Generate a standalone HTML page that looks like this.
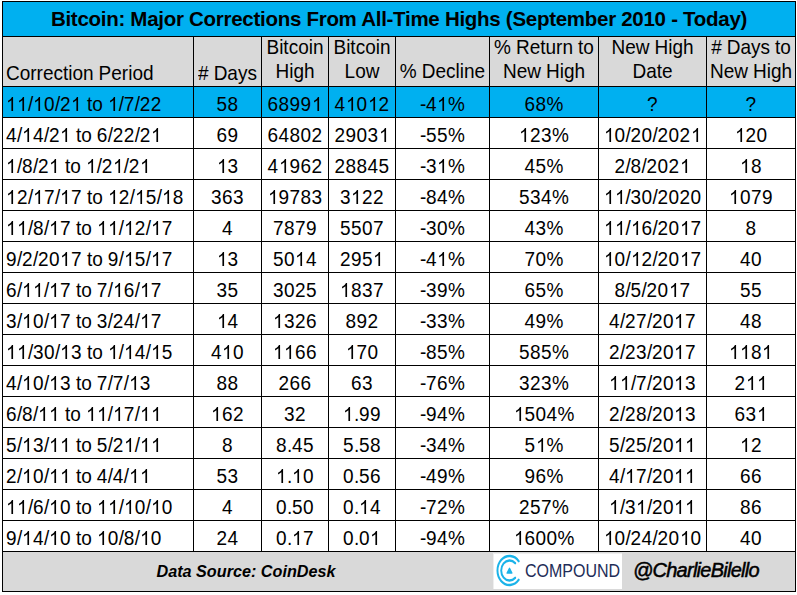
<!DOCTYPE html>
<html><head><meta charset="utf-8"><style>
html,body{margin:0;padding:0;background:#fff;width:797px;height:595px;overflow:hidden;}
body{position:relative;font-family:"Liberation Sans",sans-serif;color:#000;}
div{position:absolute;}
.p{line-height:0;white-space:nowrap;}
.g{line-height:0;white-space:nowrap;font-size:19px;transform-origin:0 6px;transform:scaleY(1.07);}
.g i{display:inline-block;font-style:normal;}
.g i.o{position:relative;height:0;}
.one{position:absolute;left:0;bottom:0;width:10.567px;height:13.267px;}
.w4_22{width:4.22px}.w5{width:5px}.w5_28{width:5.28px}.w6{width:6px}.w6_33{width:6.33px}.w9_5{width:9.5px}.w10_57{width:10.57px}.w11{width:11px}.w12_67{width:12.67px}.w13_72{width:13.72px}.w16_89{width:16.89px}
</style></head><body>
<svg width="0" height="0" style="position:absolute"><defs><path id="one" transform="scale(1,-1)" d="M763 0H583V1108Q470 1000 223 890V1060Q410 1150 520 1270Q600 1350 645 1430H763Z"/></defs></svg>
<div style="left:2px;top:1px;width:794px;height:35px;background:#00B0F0;"></div><div style="left:2px;top:36px;width:794px;height:51px;background:#D9D9D9;"></div><div style="left:2px;top:86px;width:794px;height:31px;background:#00B0F0;"></div><div style="left:2px;top:551px;width:794px;height:41px;background:#D9D9D9;"></div><div style="left:2px;top:1px;width:794px;height:1px;background:#000;"></div><div style="left:2px;top:36px;width:794px;height:1px;background:#000;"></div><div style="left:2px;top:86px;width:794px;height:1px;background:#000;"></div><div style="left:2px;top:117px;width:794px;height:1px;background:#000;"></div><div style="left:2px;top:148px;width:794px;height:1px;background:#000;"></div><div style="left:2px;top:179px;width:794px;height:1px;background:#000;"></div><div style="left:2px;top:210px;width:794px;height:1px;background:#000;"></div><div style="left:2px;top:241px;width:794px;height:1px;background:#000;"></div><div style="left:2px;top:272px;width:794px;height:1px;background:#000;"></div><div style="left:2px;top:303px;width:794px;height:1px;background:#000;"></div><div style="left:2px;top:334px;width:794px;height:1px;background:#000;"></div><div style="left:2px;top:365px;width:794px;height:1px;background:#000;"></div><div style="left:2px;top:396px;width:794px;height:1px;background:#000;"></div><div style="left:2px;top:427px;width:794px;height:1px;background:#000;"></div><div style="left:2px;top:458px;width:794px;height:1px;background:#000;"></div><div style="left:2px;top:489px;width:794px;height:1px;background:#000;"></div><div style="left:2px;top:520px;width:794px;height:1px;background:#000;"></div><div style="left:2px;top:551px;width:794px;height:1px;background:#000;"></div><div style="left:2px;top:591px;width:794px;height:1px;background:#000;"></div><div style="left:2px;top:1px;width:1px;height:591px;background:#000;"></div><div style="left:795px;top:1px;width:1px;height:591px;background:#000;"></div><div style="left:193px;top:36px;width:1px;height:515px;background:#000;"></div><div style="left:261px;top:36px;width:1px;height:515px;background:#000;"></div><div style="left:328px;top:36px;width:1px;height:515px;background:#000;"></div><div style="left:395px;top:36px;width:1px;height:515px;background:#000;"></div><div style="left:489px;top:36px;width:1px;height:515px;background:#000;"></div><div style="left:598px;top:36px;width:1px;height:515px;background:#000;"></div><div style="left:706px;top:36px;width:1px;height:515px;background:#000;"></div><div class="p" style="left:2px;top:19px;width:794px;text-align:center;font-size:20.5px;font-weight:bold;letter-spacing:-0.28px;">Bitcoin: Major Corrections From All-Time Highs (September 2010 - Today)</div><div class="g" style="left:6.00px;top:74px"><i class="w13_72">C</i><i class="w10_57">o</i><i class="w6_33">r</i><i class="w6_33">r</i><i class="w10_57">e</i><i class="w9_5">c</i><i class="w5_28">t</i><i class="w4_22">i</i><i class="w10_57">o</i><i class="w10_57">n</i><i class="w5">&nbsp;</i><i class="w12_67">P</i><i class="w10_57">e</i><i class="w6_33">r</i><i class="w4_22">i</i><i class="w10_57">o</i><i class="w10_57">d</i></div><div class="g" style="left:198.07px;top:74px"><i class="w10_57">#</i><i class="w5">&nbsp;</i><i class="w13_72">D</i><i class="w10_57">a</i><i class="w9_5">y</i><i class="w9_5">s</i></div><div class="g" style="left:266.49px;top:48px"><i class="w12_67">B</i><i class="w4_22">i</i><i class="w5_28">t</i><i class="w9_5">c</i><i class="w10_57">o</i><i class="w4_22">i</i><i class="w10_57">n</i></div><div class="g" style="left:275.46px;top:72px"><i class="w13_72">H</i><i class="w4_22">i</i><i class="w10_57">g</i><i class="w10_57">h</i></div><div class="g" style="left:333.49px;top:48px"><i class="w12_67">B</i><i class="w4_22">i</i><i class="w5_28">t</i><i class="w9_5">c</i><i class="w10_57">o</i><i class="w4_22">i</i><i class="w10_57">n</i></div><div class="g" style="left:344.57px;top:72px"><i class="w10_57">L</i><i class="w10_57">o</i><i class="w13_72">w</i></div><div class="g" style="left:399.87px;top:72px"><i class="w16_89">%</i><i class="w5">&nbsp;</i><i class="w13_72">D</i><i class="w10_57">e</i><i class="w9_5">c</i><i class="w4_22">l</i><i class="w4_22">i</i><i class="w10_57">n</i><i class="w10_57">e</i></div><div class="g" style="left:494.11px;top:48px"><i class="w16_89">%</i><i class="w5">&nbsp;</i><i class="w13_72">R</i><i class="w10_57">e</i><i class="w5_28">t</i><i class="w10_57">u</i><i class="w6_33">r</i><i class="w10_57">n</i><i class="w5">&nbsp;</i><i class="w5_28">t</i><i class="w10_57">o</i></div><div class="g" style="left:502.95px;top:72px"><i class="w13_72">N</i><i class="w10_57">e</i><i class="w13_72">w</i><i class="w5">&nbsp;</i><i class="w13_72">H</i><i class="w4_22">i</i><i class="w10_57">g</i><i class="w10_57">h</i></div><div class="g" style="left:611.46px;top:48px"><i class="w13_72">N</i><i class="w10_57">e</i><i class="w13_72">w</i><i class="w5">&nbsp;</i><i class="w13_72">H</i><i class="w4_22">i</i><i class="w10_57">g</i><i class="w10_57">h</i></div><div class="g" style="left:632.43px;top:72px"><i class="w13_72">D</i><i class="w10_57">a</i><i class="w5_28">t</i><i class="w10_57">e</i></div><div class="g" style="left:711.14px;top:48px"><i class="w10_57">#</i><i class="w5">&nbsp;</i><i class="w13_72">D</i><i class="w10_57">a</i><i class="w9_5">y</i><i class="w9_5">s</i><i class="w5">&nbsp;</i><i class="w5_28">t</i><i class="w10_57">o</i></div><div class="g" style="left:709.96px;top:72px"><i class="w13_72">N</i><i class="w10_57">e</i><i class="w13_72">w</i><i class="w5">&nbsp;</i><i class="w13_72">H</i><i class="w4_22">i</i><i class="w10_57">g</i><i class="w10_57">h</i></div><div class="g" style="left:6.00px;top:105px"><i class="w11 o"><svg class="one" viewBox="0 -1430 1139 1430"><use href="#one"/></svg></i><i class="w11 o"><svg class="one" viewBox="0 -1430 1139 1430"><use href="#one"/></svg></i><i class="w5">/</i><i class="w11 o"><svg class="one" viewBox="0 -1430 1139 1430"><use href="#one"/></svg></i><i class="w11">0</i><i class="w5">/</i><i class="w11">2</i><i class="w11 o"><svg class="one" viewBox="0 -1430 1139 1430"><use href="#one"/></svg></i><i class="w5">&nbsp;</i><i class="w5_28">t</i><i class="w10_57">o</i><i class="w5">&nbsp;</i><i class="w11 o"><svg class="one" viewBox="0 -1430 1139 1430"><use href="#one"/></svg></i><i class="w5">/</i><i class="w11">7</i><i class="w5">/</i><i class="w11">2</i><i class="w11">2</i></div><div class="g" style="left:216.50px;top:105px"><i class="w11">5</i><i class="w11">8</i></div><div class="g" style="left:267.50px;top:105px"><i class="w11">6</i><i class="w11">8</i><i class="w11">9</i><i class="w11">9</i><i class="w11 o"><svg class="one" viewBox="0 -1430 1139 1430"><use href="#one"/></svg></i></div><div class="g" style="left:334.50px;top:105px"><i class="w11">4</i><i class="w11 o"><svg class="one" viewBox="0 -1430 1139 1430"><use href="#one"/></svg></i><i class="w11">0</i><i class="w11 o"><svg class="one" viewBox="0 -1430 1139 1430"><use href="#one"/></svg></i><i class="w11">2</i></div><div class="g" style="left:420.06px;top:105px"><i class="w6">-</i><i class="w11">4</i><i class="w11 o"><svg class="one" viewBox="0 -1430 1139 1430"><use href="#one"/></svg></i><i class="w16_89">%</i></div><div class="g" style="left:524.55px;top:105px"><i class="w11">6</i><i class="w11">8</i><i class="w16_89">%</i></div><div class="g" style="left:647.00px;top:105px"><i class="w11">?</i></div><div class="g" style="left:745.50px;top:105px"><i class="w11">?</i></div><div class="g" style="left:6.00px;top:136px"><i class="w11">4</i><i class="w5">/</i><i class="w11 o"><svg class="one" viewBox="0 -1430 1139 1430"><use href="#one"/></svg></i><i class="w11">4</i><i class="w5">/</i><i class="w11">2</i><i class="w11 o"><svg class="one" viewBox="0 -1430 1139 1430"><use href="#one"/></svg></i><i class="w5">&nbsp;</i><i class="w5_28">t</i><i class="w10_57">o</i><i class="w5">&nbsp;</i><i class="w11">6</i><i class="w5">/</i><i class="w11">2</i><i class="w11">2</i><i class="w5">/</i><i class="w11">2</i><i class="w11 o"><svg class="one" viewBox="0 -1430 1139 1430"><use href="#one"/></svg></i></div><div class="g" style="left:216.50px;top:136px"><i class="w11">6</i><i class="w11">9</i></div><div class="g" style="left:267.50px;top:136px"><i class="w11">6</i><i class="w11">4</i><i class="w11">8</i><i class="w11">0</i><i class="w11">2</i></div><div class="g" style="left:334.50px;top:136px"><i class="w11">2</i><i class="w11">9</i><i class="w11">0</i><i class="w11">3</i><i class="w11 o"><svg class="one" viewBox="0 -1430 1139 1430"><use href="#one"/></svg></i></div><div class="g" style="left:420.06px;top:136px"><i class="w6">-</i><i class="w11">5</i><i class="w11">5</i><i class="w16_89">%</i></div><div class="g" style="left:519.05px;top:136px"><i class="w11 o"><svg class="one" viewBox="0 -1430 1139 1430"><use href="#one"/></svg></i><i class="w11">2</i><i class="w11">3</i><i class="w16_89">%</i></div><div class="g" style="left:603.50px;top:136px"><i class="w11 o"><svg class="one" viewBox="0 -1430 1139 1430"><use href="#one"/></svg></i><i class="w11">0</i><i class="w5">/</i><i class="w11">2</i><i class="w11">0</i><i class="w5">/</i><i class="w11">2</i><i class="w11">0</i><i class="w11">2</i><i class="w11 o"><svg class="one" viewBox="0 -1430 1139 1430"><use href="#one"/></svg></i></div><div class="g" style="left:734.50px;top:136px"><i class="w11 o"><svg class="one" viewBox="0 -1430 1139 1430"><use href="#one"/></svg></i><i class="w11">2</i><i class="w11">0</i></div><div class="g" style="left:6.00px;top:167px"><i class="w11 o"><svg class="one" viewBox="0 -1430 1139 1430"><use href="#one"/></svg></i><i class="w5">/</i><i class="w11">8</i><i class="w5">/</i><i class="w11">2</i><i class="w11 o"><svg class="one" viewBox="0 -1430 1139 1430"><use href="#one"/></svg></i><i class="w5">&nbsp;</i><i class="w5_28">t</i><i class="w10_57">o</i><i class="w5">&nbsp;</i><i class="w11 o"><svg class="one" viewBox="0 -1430 1139 1430"><use href="#one"/></svg></i><i class="w5">/</i><i class="w11">2</i><i class="w11 o"><svg class="one" viewBox="0 -1430 1139 1430"><use href="#one"/></svg></i><i class="w5">/</i><i class="w11">2</i><i class="w11 o"><svg class="one" viewBox="0 -1430 1139 1430"><use href="#one"/></svg></i></div><div class="g" style="left:216.50px;top:167px"><i class="w11 o"><svg class="one" viewBox="0 -1430 1139 1430"><use href="#one"/></svg></i><i class="w11">3</i></div><div class="g" style="left:267.50px;top:167px"><i class="w11">4</i><i class="w11 o"><svg class="one" viewBox="0 -1430 1139 1430"><use href="#one"/></svg></i><i class="w11">9</i><i class="w11">6</i><i class="w11">2</i></div><div class="g" style="left:334.50px;top:167px"><i class="w11">2</i><i class="w11">8</i><i class="w11">8</i><i class="w11">4</i><i class="w11">5</i></div><div class="g" style="left:420.06px;top:167px"><i class="w6">-</i><i class="w11">3</i><i class="w11 o"><svg class="one" viewBox="0 -1430 1139 1430"><use href="#one"/></svg></i><i class="w16_89">%</i></div><div class="g" style="left:524.55px;top:167px"><i class="w11">4</i><i class="w11">5</i><i class="w16_89">%</i></div><div class="g" style="left:614.50px;top:167px"><i class="w11">2</i><i class="w5">/</i><i class="w11">8</i><i class="w5">/</i><i class="w11">2</i><i class="w11">0</i><i class="w11">2</i><i class="w11 o"><svg class="one" viewBox="0 -1430 1139 1430"><use href="#one"/></svg></i></div><div class="g" style="left:740.00px;top:167px"><i class="w11 o"><svg class="one" viewBox="0 -1430 1139 1430"><use href="#one"/></svg></i><i class="w11">8</i></div><div class="g" style="left:6.00px;top:198px"><i class="w11 o"><svg class="one" viewBox="0 -1430 1139 1430"><use href="#one"/></svg></i><i class="w11">2</i><i class="w5">/</i><i class="w11 o"><svg class="one" viewBox="0 -1430 1139 1430"><use href="#one"/></svg></i><i class="w11">7</i><i class="w5">/</i><i class="w11 o"><svg class="one" viewBox="0 -1430 1139 1430"><use href="#one"/></svg></i><i class="w11">7</i><i class="w5">&nbsp;</i><i class="w5_28">t</i><i class="w10_57">o</i><i class="w5">&nbsp;</i><i class="w11 o"><svg class="one" viewBox="0 -1430 1139 1430"><use href="#one"/></svg></i><i class="w11">2</i><i class="w5">/</i><i class="w11 o"><svg class="one" viewBox="0 -1430 1139 1430"><use href="#one"/></svg></i><i class="w11">5</i><i class="w5">/</i><i class="w11 o"><svg class="one" viewBox="0 -1430 1139 1430"><use href="#one"/></svg></i><i class="w11">8</i></div><div class="g" style="left:211.00px;top:198px"><i class="w11">3</i><i class="w11">6</i><i class="w11">3</i></div><div class="g" style="left:267.50px;top:198px"><i class="w11 o"><svg class="one" viewBox="0 -1430 1139 1430"><use href="#one"/></svg></i><i class="w11">9</i><i class="w11">7</i><i class="w11">8</i><i class="w11">3</i></div><div class="g" style="left:340.00px;top:198px"><i class="w11">3</i><i class="w11 o"><svg class="one" viewBox="0 -1430 1139 1430"><use href="#one"/></svg></i><i class="w11">2</i><i class="w11">2</i></div><div class="g" style="left:420.06px;top:198px"><i class="w6">-</i><i class="w11">8</i><i class="w11">4</i><i class="w16_89">%</i></div><div class="g" style="left:519.05px;top:198px"><i class="w11">5</i><i class="w11">3</i><i class="w11">4</i><i class="w16_89">%</i></div><div class="g" style="left:603.50px;top:198px"><i class="w11 o"><svg class="one" viewBox="0 -1430 1139 1430"><use href="#one"/></svg></i><i class="w11 o"><svg class="one" viewBox="0 -1430 1139 1430"><use href="#one"/></svg></i><i class="w5">/</i><i class="w11">3</i><i class="w11">0</i><i class="w5">/</i><i class="w11">2</i><i class="w11">0</i><i class="w11">2</i><i class="w11">0</i></div><div class="g" style="left:729.00px;top:198px"><i class="w11 o"><svg class="one" viewBox="0 -1430 1139 1430"><use href="#one"/></svg></i><i class="w11">0</i><i class="w11">7</i><i class="w11">9</i></div><div class="g" style="left:6.00px;top:229px"><i class="w11 o"><svg class="one" viewBox="0 -1430 1139 1430"><use href="#one"/></svg></i><i class="w11 o"><svg class="one" viewBox="0 -1430 1139 1430"><use href="#one"/></svg></i><i class="w5">/</i><i class="w11">8</i><i class="w5">/</i><i class="w11 o"><svg class="one" viewBox="0 -1430 1139 1430"><use href="#one"/></svg></i><i class="w11">7</i><i class="w5">&nbsp;</i><i class="w5_28">t</i><i class="w10_57">o</i><i class="w5">&nbsp;</i><i class="w11 o"><svg class="one" viewBox="0 -1430 1139 1430"><use href="#one"/></svg></i><i class="w11 o"><svg class="one" viewBox="0 -1430 1139 1430"><use href="#one"/></svg></i><i class="w5">/</i><i class="w11 o"><svg class="one" viewBox="0 -1430 1139 1430"><use href="#one"/></svg></i><i class="w11">2</i><i class="w5">/</i><i class="w11 o"><svg class="one" viewBox="0 -1430 1139 1430"><use href="#one"/></svg></i><i class="w11">7</i></div><div class="g" style="left:222.00px;top:229px"><i class="w11">4</i></div><div class="g" style="left:273.00px;top:229px"><i class="w11">7</i><i class="w11">8</i><i class="w11">7</i><i class="w11">9</i></div><div class="g" style="left:340.00px;top:229px"><i class="w11">5</i><i class="w11">5</i><i class="w11">0</i><i class="w11">7</i></div><div class="g" style="left:420.06px;top:229px"><i class="w6">-</i><i class="w11">3</i><i class="w11">0</i><i class="w16_89">%</i></div><div class="g" style="left:524.55px;top:229px"><i class="w11">4</i><i class="w11">3</i><i class="w16_89">%</i></div><div class="g" style="left:603.50px;top:229px"><i class="w11 o"><svg class="one" viewBox="0 -1430 1139 1430"><use href="#one"/></svg></i><i class="w11 o"><svg class="one" viewBox="0 -1430 1139 1430"><use href="#one"/></svg></i><i class="w5">/</i><i class="w11 o"><svg class="one" viewBox="0 -1430 1139 1430"><use href="#one"/></svg></i><i class="w11">6</i><i class="w5">/</i><i class="w11">2</i><i class="w11">0</i><i class="w11 o"><svg class="one" viewBox="0 -1430 1139 1430"><use href="#one"/></svg></i><i class="w11">7</i></div><div class="g" style="left:745.50px;top:229px"><i class="w11">8</i></div><div class="g" style="left:6.00px;top:260px"><i class="w11">9</i><i class="w5">/</i><i class="w11">2</i><i class="w5">/</i><i class="w11">2</i><i class="w11">0</i><i class="w11 o"><svg class="one" viewBox="0 -1430 1139 1430"><use href="#one"/></svg></i><i class="w11">7</i><i class="w5">&nbsp;</i><i class="w5_28">t</i><i class="w10_57">o</i><i class="w5">&nbsp;</i><i class="w11">9</i><i class="w5">/</i><i class="w11 o"><svg class="one" viewBox="0 -1430 1139 1430"><use href="#one"/></svg></i><i class="w11">5</i><i class="w5">/</i><i class="w11 o"><svg class="one" viewBox="0 -1430 1139 1430"><use href="#one"/></svg></i><i class="w11">7</i></div><div class="g" style="left:216.50px;top:260px"><i class="w11 o"><svg class="one" viewBox="0 -1430 1139 1430"><use href="#one"/></svg></i><i class="w11">3</i></div><div class="g" style="left:273.00px;top:260px"><i class="w11">5</i><i class="w11">0</i><i class="w11 o"><svg class="one" viewBox="0 -1430 1139 1430"><use href="#one"/></svg></i><i class="w11">4</i></div><div class="g" style="left:340.00px;top:260px"><i class="w11">2</i><i class="w11">9</i><i class="w11">5</i><i class="w11 o"><svg class="one" viewBox="0 -1430 1139 1430"><use href="#one"/></svg></i></div><div class="g" style="left:420.06px;top:260px"><i class="w6">-</i><i class="w11">4</i><i class="w11 o"><svg class="one" viewBox="0 -1430 1139 1430"><use href="#one"/></svg></i><i class="w16_89">%</i></div><div class="g" style="left:524.55px;top:260px"><i class="w11">7</i><i class="w11">0</i><i class="w16_89">%</i></div><div class="g" style="left:603.50px;top:260px"><i class="w11 o"><svg class="one" viewBox="0 -1430 1139 1430"><use href="#one"/></svg></i><i class="w11">0</i><i class="w5">/</i><i class="w11 o"><svg class="one" viewBox="0 -1430 1139 1430"><use href="#one"/></svg></i><i class="w11">2</i><i class="w5">/</i><i class="w11">2</i><i class="w11">0</i><i class="w11 o"><svg class="one" viewBox="0 -1430 1139 1430"><use href="#one"/></svg></i><i class="w11">7</i></div><div class="g" style="left:740.00px;top:260px"><i class="w11">4</i><i class="w11">0</i></div><div class="g" style="left:6.00px;top:291px"><i class="w11">6</i><i class="w5">/</i><i class="w11 o"><svg class="one" viewBox="0 -1430 1139 1430"><use href="#one"/></svg></i><i class="w11 o"><svg class="one" viewBox="0 -1430 1139 1430"><use href="#one"/></svg></i><i class="w5">/</i><i class="w11 o"><svg class="one" viewBox="0 -1430 1139 1430"><use href="#one"/></svg></i><i class="w11">7</i><i class="w5">&nbsp;</i><i class="w5_28">t</i><i class="w10_57">o</i><i class="w5">&nbsp;</i><i class="w11">7</i><i class="w5">/</i><i class="w11 o"><svg class="one" viewBox="0 -1430 1139 1430"><use href="#one"/></svg></i><i class="w11">6</i><i class="w5">/</i><i class="w11 o"><svg class="one" viewBox="0 -1430 1139 1430"><use href="#one"/></svg></i><i class="w11">7</i></div><div class="g" style="left:216.50px;top:291px"><i class="w11">3</i><i class="w11">5</i></div><div class="g" style="left:273.00px;top:291px"><i class="w11">3</i><i class="w11">0</i><i class="w11">2</i><i class="w11">5</i></div><div class="g" style="left:340.00px;top:291px"><i class="w11 o"><svg class="one" viewBox="0 -1430 1139 1430"><use href="#one"/></svg></i><i class="w11">8</i><i class="w11">3</i><i class="w11">7</i></div><div class="g" style="left:420.06px;top:291px"><i class="w6">-</i><i class="w11">3</i><i class="w11">9</i><i class="w16_89">%</i></div><div class="g" style="left:524.55px;top:291px"><i class="w11">6</i><i class="w11">5</i><i class="w16_89">%</i></div><div class="g" style="left:614.50px;top:291px"><i class="w11">8</i><i class="w5">/</i><i class="w11">5</i><i class="w5">/</i><i class="w11">2</i><i class="w11">0</i><i class="w11 o"><svg class="one" viewBox="0 -1430 1139 1430"><use href="#one"/></svg></i><i class="w11">7</i></div><div class="g" style="left:740.00px;top:291px"><i class="w11">5</i><i class="w11">5</i></div><div class="g" style="left:6.00px;top:322px"><i class="w11">3</i><i class="w5">/</i><i class="w11 o"><svg class="one" viewBox="0 -1430 1139 1430"><use href="#one"/></svg></i><i class="w11">0</i><i class="w5">/</i><i class="w11 o"><svg class="one" viewBox="0 -1430 1139 1430"><use href="#one"/></svg></i><i class="w11">7</i><i class="w5">&nbsp;</i><i class="w5_28">t</i><i class="w10_57">o</i><i class="w5">&nbsp;</i><i class="w11">3</i><i class="w5">/</i><i class="w11">2</i><i class="w11">4</i><i class="w5">/</i><i class="w11 o"><svg class="one" viewBox="0 -1430 1139 1430"><use href="#one"/></svg></i><i class="w11">7</i></div><div class="g" style="left:216.50px;top:322px"><i class="w11 o"><svg class="one" viewBox="0 -1430 1139 1430"><use href="#one"/></svg></i><i class="w11">4</i></div><div class="g" style="left:273.00px;top:322px"><i class="w11 o"><svg class="one" viewBox="0 -1430 1139 1430"><use href="#one"/></svg></i><i class="w11">3</i><i class="w11">2</i><i class="w11">6</i></div><div class="g" style="left:345.50px;top:322px"><i class="w11">8</i><i class="w11">9</i><i class="w11">2</i></div><div class="g" style="left:420.06px;top:322px"><i class="w6">-</i><i class="w11">3</i><i class="w11">3</i><i class="w16_89">%</i></div><div class="g" style="left:524.55px;top:322px"><i class="w11">4</i><i class="w11">9</i><i class="w16_89">%</i></div><div class="g" style="left:609.00px;top:322px"><i class="w11">4</i><i class="w5">/</i><i class="w11">2</i><i class="w11">7</i><i class="w5">/</i><i class="w11">2</i><i class="w11">0</i><i class="w11 o"><svg class="one" viewBox="0 -1430 1139 1430"><use href="#one"/></svg></i><i class="w11">7</i></div><div class="g" style="left:740.00px;top:322px"><i class="w11">4</i><i class="w11">8</i></div><div class="g" style="left:6.00px;top:353px"><i class="w11 o"><svg class="one" viewBox="0 -1430 1139 1430"><use href="#one"/></svg></i><i class="w11 o"><svg class="one" viewBox="0 -1430 1139 1430"><use href="#one"/></svg></i><i class="w5">/</i><i class="w11">3</i><i class="w11">0</i><i class="w5">/</i><i class="w11 o"><svg class="one" viewBox="0 -1430 1139 1430"><use href="#one"/></svg></i><i class="w11">3</i><i class="w5">&nbsp;</i><i class="w5_28">t</i><i class="w10_57">o</i><i class="w5">&nbsp;</i><i class="w11 o"><svg class="one" viewBox="0 -1430 1139 1430"><use href="#one"/></svg></i><i class="w5">/</i><i class="w11 o"><svg class="one" viewBox="0 -1430 1139 1430"><use href="#one"/></svg></i><i class="w11">4</i><i class="w5">/</i><i class="w11 o"><svg class="one" viewBox="0 -1430 1139 1430"><use href="#one"/></svg></i><i class="w11">5</i></div><div class="g" style="left:211.00px;top:353px"><i class="w11">4</i><i class="w11 o"><svg class="one" viewBox="0 -1430 1139 1430"><use href="#one"/></svg></i><i class="w11">0</i></div><div class="g" style="left:273.00px;top:353px"><i class="w11 o"><svg class="one" viewBox="0 -1430 1139 1430"><use href="#one"/></svg></i><i class="w11 o"><svg class="one" viewBox="0 -1430 1139 1430"><use href="#one"/></svg></i><i class="w11">6</i><i class="w11">6</i></div><div class="g" style="left:345.50px;top:353px"><i class="w11 o"><svg class="one" viewBox="0 -1430 1139 1430"><use href="#one"/></svg></i><i class="w11">7</i><i class="w11">0</i></div><div class="g" style="left:420.06px;top:353px"><i class="w6">-</i><i class="w11">8</i><i class="w11">5</i><i class="w16_89">%</i></div><div class="g" style="left:519.05px;top:353px"><i class="w11">5</i><i class="w11">8</i><i class="w11">5</i><i class="w16_89">%</i></div><div class="g" style="left:609.00px;top:353px"><i class="w11">2</i><i class="w5">/</i><i class="w11">2</i><i class="w11">3</i><i class="w5">/</i><i class="w11">2</i><i class="w11">0</i><i class="w11 o"><svg class="one" viewBox="0 -1430 1139 1430"><use href="#one"/></svg></i><i class="w11">7</i></div><div class="g" style="left:729.00px;top:353px"><i class="w11 o"><svg class="one" viewBox="0 -1430 1139 1430"><use href="#one"/></svg></i><i class="w11 o"><svg class="one" viewBox="0 -1430 1139 1430"><use href="#one"/></svg></i><i class="w11">8</i><i class="w11 o"><svg class="one" viewBox="0 -1430 1139 1430"><use href="#one"/></svg></i></div><div class="g" style="left:6.00px;top:384px"><i class="w11">4</i><i class="w5">/</i><i class="w11 o"><svg class="one" viewBox="0 -1430 1139 1430"><use href="#one"/></svg></i><i class="w11">0</i><i class="w5">/</i><i class="w11 o"><svg class="one" viewBox="0 -1430 1139 1430"><use href="#one"/></svg></i><i class="w11">3</i><i class="w5">&nbsp;</i><i class="w5_28">t</i><i class="w10_57">o</i><i class="w5">&nbsp;</i><i class="w11">7</i><i class="w5">/</i><i class="w11">7</i><i class="w5">/</i><i class="w11 o"><svg class="one" viewBox="0 -1430 1139 1430"><use href="#one"/></svg></i><i class="w11">3</i></div><div class="g" style="left:216.50px;top:384px"><i class="w11">8</i><i class="w11">8</i></div><div class="g" style="left:278.50px;top:384px"><i class="w11">2</i><i class="w11">6</i><i class="w11">6</i></div><div class="g" style="left:351.00px;top:384px"><i class="w11">6</i><i class="w11">3</i></div><div class="g" style="left:420.06px;top:384px"><i class="w6">-</i><i class="w11">7</i><i class="w11">6</i><i class="w16_89">%</i></div><div class="g" style="left:519.05px;top:384px"><i class="w11">3</i><i class="w11">2</i><i class="w11">3</i><i class="w16_89">%</i></div><div class="g" style="left:609.00px;top:384px"><i class="w11 o"><svg class="one" viewBox="0 -1430 1139 1430"><use href="#one"/></svg></i><i class="w11 o"><svg class="one" viewBox="0 -1430 1139 1430"><use href="#one"/></svg></i><i class="w5">/</i><i class="w11">7</i><i class="w5">/</i><i class="w11">2</i><i class="w11">0</i><i class="w11 o"><svg class="one" viewBox="0 -1430 1139 1430"><use href="#one"/></svg></i><i class="w11">3</i></div><div class="g" style="left:734.50px;top:384px"><i class="w11">2</i><i class="w11 o"><svg class="one" viewBox="0 -1430 1139 1430"><use href="#one"/></svg></i><i class="w11 o"><svg class="one" viewBox="0 -1430 1139 1430"><use href="#one"/></svg></i></div><div class="g" style="left:6.00px;top:415px"><i class="w11">6</i><i class="w5">/</i><i class="w11">8</i><i class="w5">/</i><i class="w11 o"><svg class="one" viewBox="0 -1430 1139 1430"><use href="#one"/></svg></i><i class="w11 o"><svg class="one" viewBox="0 -1430 1139 1430"><use href="#one"/></svg></i><i class="w5">&nbsp;</i><i class="w5_28">t</i><i class="w10_57">o</i><i class="w5">&nbsp;</i><i class="w11 o"><svg class="one" viewBox="0 -1430 1139 1430"><use href="#one"/></svg></i><i class="w11 o"><svg class="one" viewBox="0 -1430 1139 1430"><use href="#one"/></svg></i><i class="w5">/</i><i class="w11 o"><svg class="one" viewBox="0 -1430 1139 1430"><use href="#one"/></svg></i><i class="w11">7</i><i class="w5">/</i><i class="w11 o"><svg class="one" viewBox="0 -1430 1139 1430"><use href="#one"/></svg></i><i class="w11 o"><svg class="one" viewBox="0 -1430 1139 1430"><use href="#one"/></svg></i></div><div class="g" style="left:211.00px;top:415px"><i class="w11 o"><svg class="one" viewBox="0 -1430 1139 1430"><use href="#one"/></svg></i><i class="w11">6</i><i class="w11">2</i></div><div class="g" style="left:284.00px;top:415px"><i class="w11">3</i><i class="w11">2</i></div><div class="g" style="left:343.00px;top:415px"><i class="w11 o"><svg class="one" viewBox="0 -1430 1139 1430"><use href="#one"/></svg></i><i class="w5">.</i><i class="w11">9</i><i class="w11">9</i></div><div class="g" style="left:420.06px;top:415px"><i class="w6">-</i><i class="w11">9</i><i class="w11">4</i><i class="w16_89">%</i></div><div class="g" style="left:513.55px;top:415px"><i class="w11 o"><svg class="one" viewBox="0 -1430 1139 1430"><use href="#one"/></svg></i><i class="w11">5</i><i class="w11">0</i><i class="w11">4</i><i class="w16_89">%</i></div><div class="g" style="left:609.00px;top:415px"><i class="w11">2</i><i class="w5">/</i><i class="w11">2</i><i class="w11">8</i><i class="w5">/</i><i class="w11">2</i><i class="w11">0</i><i class="w11 o"><svg class="one" viewBox="0 -1430 1139 1430"><use href="#one"/></svg></i><i class="w11">3</i></div><div class="g" style="left:734.50px;top:415px"><i class="w11">6</i><i class="w11">3</i><i class="w11 o"><svg class="one" viewBox="0 -1430 1139 1430"><use href="#one"/></svg></i></div><div class="g" style="left:6.00px;top:446px"><i class="w11">5</i><i class="w5">/</i><i class="w11 o"><svg class="one" viewBox="0 -1430 1139 1430"><use href="#one"/></svg></i><i class="w11">3</i><i class="w5">/</i><i class="w11 o"><svg class="one" viewBox="0 -1430 1139 1430"><use href="#one"/></svg></i><i class="w11 o"><svg class="one" viewBox="0 -1430 1139 1430"><use href="#one"/></svg></i><i class="w5">&nbsp;</i><i class="w5_28">t</i><i class="w10_57">o</i><i class="w5">&nbsp;</i><i class="w11">5</i><i class="w5">/</i><i class="w11">2</i><i class="w11 o"><svg class="one" viewBox="0 -1430 1139 1430"><use href="#one"/></svg></i><i class="w5">/</i><i class="w11 o"><svg class="one" viewBox="0 -1430 1139 1430"><use href="#one"/></svg></i><i class="w11 o"><svg class="one" viewBox="0 -1430 1139 1430"><use href="#one"/></svg></i></div><div class="g" style="left:222.00px;top:446px"><i class="w11">8</i></div><div class="g" style="left:276.00px;top:446px"><i class="w11">8</i><i class="w5">.</i><i class="w11">4</i><i class="w11">5</i></div><div class="g" style="left:343.00px;top:446px"><i class="w11">5</i><i class="w5">.</i><i class="w11">5</i><i class="w11">8</i></div><div class="g" style="left:420.06px;top:446px"><i class="w6">-</i><i class="w11">3</i><i class="w11">4</i><i class="w16_89">%</i></div><div class="g" style="left:524.55px;top:446px"><i class="w11">5</i><i class="w11 o"><svg class="one" viewBox="0 -1430 1139 1430"><use href="#one"/></svg></i><i class="w16_89">%</i></div><div class="g" style="left:609.00px;top:446px"><i class="w11">5</i><i class="w5">/</i><i class="w11">2</i><i class="w11">5</i><i class="w5">/</i><i class="w11">2</i><i class="w11">0</i><i class="w11 o"><svg class="one" viewBox="0 -1430 1139 1430"><use href="#one"/></svg></i><i class="w11 o"><svg class="one" viewBox="0 -1430 1139 1430"><use href="#one"/></svg></i></div><div class="g" style="left:740.00px;top:446px"><i class="w11 o"><svg class="one" viewBox="0 -1430 1139 1430"><use href="#one"/></svg></i><i class="w11">2</i></div><div class="g" style="left:6.00px;top:477px"><i class="w11">2</i><i class="w5">/</i><i class="w11 o"><svg class="one" viewBox="0 -1430 1139 1430"><use href="#one"/></svg></i><i class="w11">0</i><i class="w5">/</i><i class="w11 o"><svg class="one" viewBox="0 -1430 1139 1430"><use href="#one"/></svg></i><i class="w11 o"><svg class="one" viewBox="0 -1430 1139 1430"><use href="#one"/></svg></i><i class="w5">&nbsp;</i><i class="w5_28">t</i><i class="w10_57">o</i><i class="w5">&nbsp;</i><i class="w11">4</i><i class="w5">/</i><i class="w11">4</i><i class="w5">/</i><i class="w11 o"><svg class="one" viewBox="0 -1430 1139 1430"><use href="#one"/></svg></i><i class="w11 o"><svg class="one" viewBox="0 -1430 1139 1430"><use href="#one"/></svg></i></div><div class="g" style="left:216.50px;top:477px"><i class="w11">5</i><i class="w11">3</i></div><div class="g" style="left:276.00px;top:477px"><i class="w11 o"><svg class="one" viewBox="0 -1430 1139 1430"><use href="#one"/></svg></i><i class="w5">.</i><i class="w11 o"><svg class="one" viewBox="0 -1430 1139 1430"><use href="#one"/></svg></i><i class="w11">0</i></div><div class="g" style="left:343.00px;top:477px"><i class="w11">0</i><i class="w5">.</i><i class="w11">5</i><i class="w11">6</i></div><div class="g" style="left:420.06px;top:477px"><i class="w6">-</i><i class="w11">4</i><i class="w11">9</i><i class="w16_89">%</i></div><div class="g" style="left:524.55px;top:477px"><i class="w11">9</i><i class="w11">6</i><i class="w16_89">%</i></div><div class="g" style="left:609.00px;top:477px"><i class="w11">4</i><i class="w5">/</i><i class="w11 o"><svg class="one" viewBox="0 -1430 1139 1430"><use href="#one"/></svg></i><i class="w11">7</i><i class="w5">/</i><i class="w11">2</i><i class="w11">0</i><i class="w11 o"><svg class="one" viewBox="0 -1430 1139 1430"><use href="#one"/></svg></i><i class="w11 o"><svg class="one" viewBox="0 -1430 1139 1430"><use href="#one"/></svg></i></div><div class="g" style="left:740.00px;top:477px"><i class="w11">6</i><i class="w11">6</i></div><div class="g" style="left:6.00px;top:508px"><i class="w11 o"><svg class="one" viewBox="0 -1430 1139 1430"><use href="#one"/></svg></i><i class="w11 o"><svg class="one" viewBox="0 -1430 1139 1430"><use href="#one"/></svg></i><i class="w5">/</i><i class="w11">6</i><i class="w5">/</i><i class="w11 o"><svg class="one" viewBox="0 -1430 1139 1430"><use href="#one"/></svg></i><i class="w11">0</i><i class="w5">&nbsp;</i><i class="w5_28">t</i><i class="w10_57">o</i><i class="w5">&nbsp;</i><i class="w11 o"><svg class="one" viewBox="0 -1430 1139 1430"><use href="#one"/></svg></i><i class="w11 o"><svg class="one" viewBox="0 -1430 1139 1430"><use href="#one"/></svg></i><i class="w5">/</i><i class="w11 o"><svg class="one" viewBox="0 -1430 1139 1430"><use href="#one"/></svg></i><i class="w11">0</i><i class="w5">/</i><i class="w11 o"><svg class="one" viewBox="0 -1430 1139 1430"><use href="#one"/></svg></i><i class="w11">0</i></div><div class="g" style="left:222.00px;top:508px"><i class="w11">4</i></div><div class="g" style="left:276.00px;top:508px"><i class="w11">0</i><i class="w5">.</i><i class="w11">5</i><i class="w11">0</i></div><div class="g" style="left:343.00px;top:508px"><i class="w11">0</i><i class="w5">.</i><i class="w11 o"><svg class="one" viewBox="0 -1430 1139 1430"><use href="#one"/></svg></i><i class="w11">4</i></div><div class="g" style="left:420.06px;top:508px"><i class="w6">-</i><i class="w11">7</i><i class="w11">2</i><i class="w16_89">%</i></div><div class="g" style="left:519.05px;top:508px"><i class="w11">2</i><i class="w11">5</i><i class="w11">7</i><i class="w16_89">%</i></div><div class="g" style="left:609.00px;top:508px"><i class="w11 o"><svg class="one" viewBox="0 -1430 1139 1430"><use href="#one"/></svg></i><i class="w5">/</i><i class="w11">3</i><i class="w11 o"><svg class="one" viewBox="0 -1430 1139 1430"><use href="#one"/></svg></i><i class="w5">/</i><i class="w11">2</i><i class="w11">0</i><i class="w11 o"><svg class="one" viewBox="0 -1430 1139 1430"><use href="#one"/></svg></i><i class="w11 o"><svg class="one" viewBox="0 -1430 1139 1430"><use href="#one"/></svg></i></div><div class="g" style="left:740.00px;top:508px"><i class="w11">8</i><i class="w11">6</i></div><div class="g" style="left:6.00px;top:539px"><i class="w11">9</i><i class="w5">/</i><i class="w11 o"><svg class="one" viewBox="0 -1430 1139 1430"><use href="#one"/></svg></i><i class="w11">4</i><i class="w5">/</i><i class="w11 o"><svg class="one" viewBox="0 -1430 1139 1430"><use href="#one"/></svg></i><i class="w11">0</i><i class="w5">&nbsp;</i><i class="w5_28">t</i><i class="w10_57">o</i><i class="w5">&nbsp;</i><i class="w11 o"><svg class="one" viewBox="0 -1430 1139 1430"><use href="#one"/></svg></i><i class="w11">0</i><i class="w5">/</i><i class="w11">8</i><i class="w5">/</i><i class="w11 o"><svg class="one" viewBox="0 -1430 1139 1430"><use href="#one"/></svg></i><i class="w11">0</i></div><div class="g" style="left:216.50px;top:539px"><i class="w11">2</i><i class="w11">4</i></div><div class="g" style="left:276.00px;top:539px"><i class="w11">0</i><i class="w5">.</i><i class="w11 o"><svg class="one" viewBox="0 -1430 1139 1430"><use href="#one"/></svg></i><i class="w11">7</i></div><div class="g" style="left:343.00px;top:539px"><i class="w11">0</i><i class="w5">.</i><i class="w11">0</i><i class="w11 o"><svg class="one" viewBox="0 -1430 1139 1430"><use href="#one"/></svg></i></div><div class="g" style="left:420.06px;top:539px"><i class="w6">-</i><i class="w11">9</i><i class="w11">4</i><i class="w16_89">%</i></div><div class="g" style="left:513.55px;top:539px"><i class="w11 o"><svg class="one" viewBox="0 -1430 1139 1430"><use href="#one"/></svg></i><i class="w11">6</i><i class="w11">0</i><i class="w11">0</i><i class="w16_89">%</i></div><div class="g" style="left:603.50px;top:539px"><i class="w11 o"><svg class="one" viewBox="0 -1430 1139 1430"><use href="#one"/></svg></i><i class="w11">0</i><i class="w5">/</i><i class="w11">2</i><i class="w11">4</i><i class="w5">/</i><i class="w11">2</i><i class="w11">0</i><i class="w11 o"><svg class="one" viewBox="0 -1430 1139 1430"><use href="#one"/></svg></i><i class="w11">0</i></div><div class="g" style="left:740.00px;top:539px"><i class="w11">4</i><i class="w11">0</i></div><div class="p" style="left:3px;top:571px;width:486px;text-align:center;font-size:16.2px;font-weight:bold;font-style:italic;">Data Source: CoinDesk</div><div style="left:493px;top:553px;width:129px;height:36px;background:#EEEEEE;"></div><div style="left:494px;top:554px;width:128px;height:35px;background:#FFFFFF;"></div><svg width="129" height="36" viewBox="0 0 129 36" style="position:absolute;left:493px;top:553px"><g transform="translate(16.5 17.5) scale(0.83 1)"><path d="M11.11 -9.32A14.5 14.5 0 1 0 11.11 9.32" fill="none" stroke="#1BB3E9" stroke-width="2.35" stroke-linecap="round"/><path d="M6.82 -7.31A10 10 0 1 0 6.82 7.31" fill="none" stroke="#1BB3E9" stroke-width="2.35" stroke-linecap="round"/></g><path d="M16.5 15.3L14.1 20.1L18.9 20.1Z" fill="#1BB3E9" stroke="#1BB3E9" stroke-width="1.3" stroke-linejoin="round"/></svg><div class="p" style="left:524.5px;top:571px;font-size:17.6px;color:#1E2D58;transform-origin:0 0;transform:scaleX(0.91)">COMPOUND</div><div class="p" style="left:633px;top:570px;font-size:20px;font-weight:normal;font-style:italic;letter-spacing:-0.75px;-webkit-text-stroke:0.5px #000">@CharlieBilello</div>
</body></html>
